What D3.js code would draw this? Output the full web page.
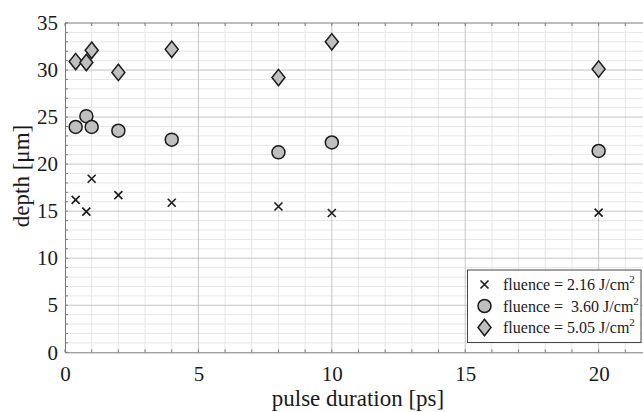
<!DOCTYPE html>
<html><head><meta charset="utf-8">
<script src="https://cdn.jsdelivr.net/npm/d3@7"></script>
<style>body{margin:0;background:#fff}svg{display:block}svg text{font-family:"Liberation Serif","Times New Roman",serif !important;fill:#1a1a1a}</style>
</head><body><svg id="c" width="643" height="412"></svg>
<script>
const pulse = [0.4, 0.8, 1, 2, 4, 8, 10, 20];
const depth216 = [16.2, 14.95, 18.45, 16.7, 15.9, 15.5, 14.8, 14.85];
const depth360 = [23.95, 25.1, 23.95, 23.55, 22.6, 21.25, 22.3, 21.4];
const depth505 = [30.9, 30.8, 32.1, 29.75, 32.2, 29.2, 33.0, 30.1];
const xTicks = [0, 5, 10, 15, 20];
const yTicks = [0, 5, 10, 15, 20, 25, 30, 35];
const legendLabels = ["fluence = 2.16 J/cm", "fluence =  3.60 J/cm", "fluence = 5.05 J/cm"];

const FONT = "'Liberation Serif', 'Times New Roman', serif";
const svg = d3.select("#c");
const x = d3.scaleLinear().domain([0, 22]).range([65, 652]);
const y = d3.scaleLinear().domain([0, 35]).range([352.3, 23]);

const minorX = d3.range(0, 23, 1).filter(v => v % 5 !== 0);
const minorY = d3.range(0, 36, 1).filter(v => v % 5 !== 0);
const g = svg.append("g");
g.selectAll(".mx").data(minorX).join("line")
  .attr("x1", d => x(d)).attr("x2", d => x(d)).attr("y1", y(0)).attr("y2", y(35))
  .attr("stroke", "#e6e6e6").attr("stroke-width", 1);
g.selectAll(".my").data(minorY).join("line")
  .attr("y1", d => y(d)).attr("y2", d => y(d)).attr("x1", x(0)).attr("x2", x(22))
  .attr("stroke", "#e6e6e6").attr("stroke-width", 1);
g.selectAll(".Mx").data(xTicks.filter(v => v > 0)).join("line")
  .attr("x1", d => x(d)).attr("x2", d => x(d)).attr("y1", y(0)).attr("y2", y(35))
  .attr("stroke", "#c4c4c4").attr("stroke-width", 1);
g.selectAll(".My").data(yTicks.filter(v => v > 0 && v < 35)).join("line")
  .attr("y1", d => y(d)).attr("y2", d => y(d)).attr("x1", x(0)).attr("x2", x(22))
  .attr("stroke", "#c4c4c4").attr("stroke-width", 1);

// axes
const axCol = "#7a7a7a";
const bottom = svg.append("g").attr("transform", `translate(0,${y(0)})`)
  .call(d3.axisBottom(x).tickValues(xTicks).tickSize(0).tickPadding(14).tickFormat(d3.format("d")));
bottom.attr("font-family", null).attr("font-size", null);
bottom.select(".domain").attr("stroke", axCol);
bottom.selectAll("text").style("font-family", FONT).style("font-size", "21px");
const left = svg.append("g").attr("transform", `translate(${x(0)},0)`)
  .call(d3.axisLeft(y).tickValues(yTicks).tickSize(0).tickPadding(7).tickFormat(d3.format("d")));
left.attr("font-family", null).attr("font-size", null);
left.select(".domain").attr("stroke", axCol);
left.selectAll("text").style("font-family", FONT).style("font-size", "21px");
svg.append("line").attr("x1", x(0)).attr("x2", x(22)).attr("y1", y(35)).attr("y2", y(35)).attr("stroke", axCol);
// inner ticks
const allX = d3.range(0, 23, 1);
const allY = d3.range(0, 36, 1);
svg.selectAll(".tb").data(allX).join("line").attr("x1", d => x(d)).attr("x2", d => x(d))
  .attr("y1", y(0)).attr("y2", y(0) - 3).attr("stroke", axCol);
svg.selectAll(".tt").data(allX).join("line").attr("x1", d => x(d)).attr("x2", d => x(d))
  .attr("y1", y(35)).attr("y2", y(35) + 3).attr("stroke", axCol);
svg.selectAll(".tl").data(allY).join("line").attr("y1", d => y(d)).attr("y2", d => y(d))
  .attr("x1", x(0)).attr("x2", x(0) + 3).attr("stroke", axCol);

// labels
svg.append("text").attr("x", 358).attr("y", 406).attr("text-anchor", "middle")
  .style("font-family", FONT).style("font-size", "23px").text("pulse duration [ps]");
svg.append("text").attr("transform", "translate(29,176) rotate(-90)").attr("text-anchor", "middle")
  .style("font-family", FONT).style("font-size", "23px").text("depth [μm]");

// markers
const fill = "#bfbfbf", stroke = "#1a1a1a";
function drawCross(sel, cx, cy) {
  sel.append("path").attr("d", `M${cx-4},${cy-4}L${cx+4},${cy+4}M${cx-4},${cy+4}L${cx+4},${cy-4}`)
    .attr("stroke", stroke).attr("stroke-width", 1.6).attr("fill", "none");
}
function drawCircle(sel, cx, cy) {
  sel.append("circle").attr("cx", cx).attr("cy", cy).attr("r", 6.5)
    .attr("fill", fill).attr("stroke", stroke).attr("stroke-width", 1.5);
}
function drawDiamond(sel, cx, cy) {
  sel.append("path").attr("d", `M${cx},${cy-8.2}L${cx+6.5},${cy}L${cx},${cy+8.2}L${cx-6.5},${cy}Z`)
    .attr("fill", fill).attr("stroke", stroke).attr("stroke-width", 1.5);
}
const mk = svg.append("g");
pulse.forEach((p, i) => drawCross(mk, x(p), y(depth216[i])));
pulse.forEach((p, i) => drawCircle(mk, x(p), y(depth360[i])));
pulse.forEach((p, i) => drawDiamond(mk, x(p), y(depth505[i])));

// legend
const lg = svg.append("g");
lg.append("rect").attr("x", 467.5).attr("y", 270).attr("width", 173.5).attr("height", 72.5)
  .attr("fill", "#fff").attr("stroke", "#444").attr("stroke-width", 1);
const rowsY = [284.5, 306, 327.5];
const drawers = [drawCross, drawCircle, drawDiamond];
legendLabels.forEach((t, i) => {
  drawers[i](lg, 484.5, rowsY[i]);
  const tx = lg.append("text").attr("x", 503).attr("y", rowsY[i] + 5.5)
    .style("font-family", FONT).style("font-size", "16px").style("white-space", "pre");
  tx.append("tspan").text(t);
  tx.append("tspan").style("font-size", "11px").attr("dy", -7).text("2");
});
</script></body></html>
